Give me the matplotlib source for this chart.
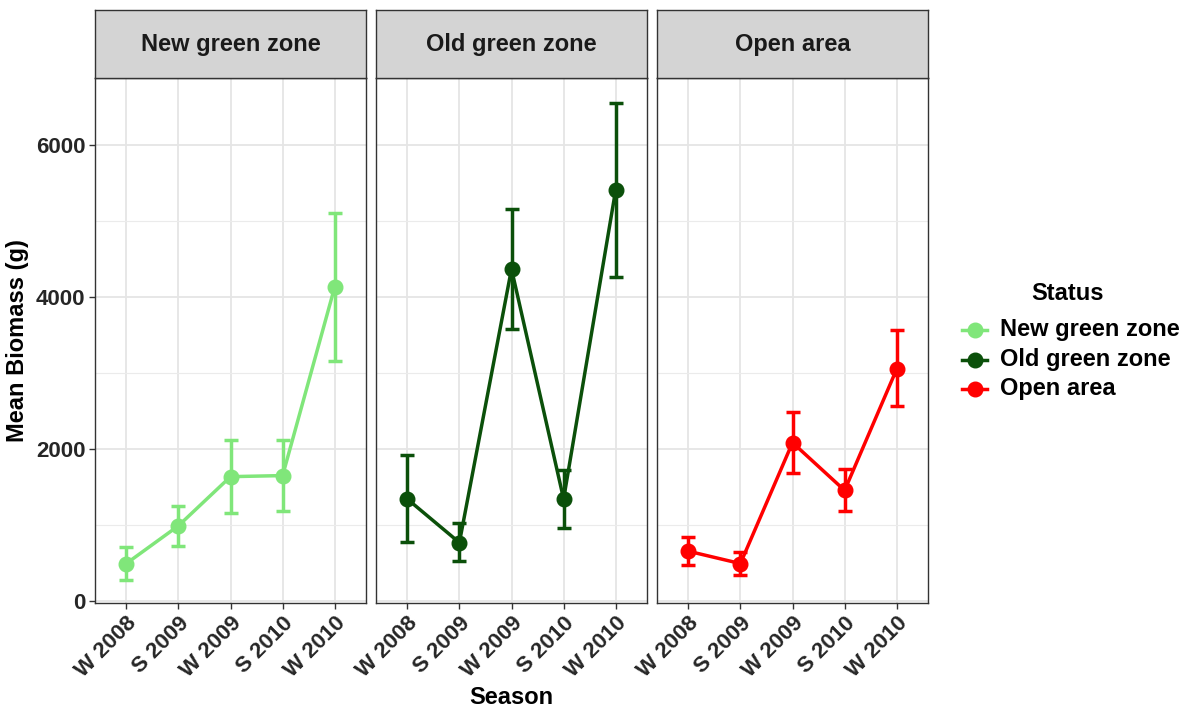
import matplotlib
matplotlib.use("Agg")
import matplotlib.pyplot as plt
from matplotlib.lines import Line2D
import numpy as np

plt.rcParams['font.family'] = ['Liberation Sans', 'DejaVu Sans']

seasons = ["W 2008", "S 2009", "W 2009", "S 2010", "W 2010"]
zones = ["New green zone", "Old green zone", "Open area"]
colors = ["#80E67A", "#0B500A", "#FF0000"]

new_mean = [489, 986, 1633, 1647, 4131]
new_lo = [267, 719, 1158, 1181, 3158]
new_hi = [706, 1244, 2109, 2118, 5100]

old_mean = [1339, 765, 4367, 1339, 5412]
old_lo = [769, 520, 3570, 959, 4262]
old_hi = [1914, 1023, 5154, 1715, 6557]

open_mean = [652, 489, 2081, 1452, 3050]
open_lo = [471, 344, 1679, 1176, 2561]
open_hi = [837, 638, 2480, 1729, 3557]

means = [new_mean, old_mean, open_mean]
los = [new_lo, old_lo, open_lo]
his = [new_hi, old_hi, open_hi]

fig = plt.figure(figsize=(12, 7.2), dpi=100)
W, H = 1200, 720
panel_lefts = [95, 376, 657]
pw = 271
ptop, pbot = 78, 603
strip_top = 10
TICK = 16

x = np.arange(len(seasons))
for i, z in enumerate(zones):
    l = panel_lefts[i]
    ax = fig.add_axes([l / W, 1 - pbot / H, pw / W, (pbot - ptop) / H])
    ax.set_xlim(-0.6, 4.6)
    ax.set_ylim(-30, 6880)
    ax.set_yticks([0, 2000, 4000, 6000])
    ax.set_yticks([1000, 3000, 5000], minor=True)
    ax.grid(True, which='major', color='#E5E5E5', linewidth=1.3, zorder=0)
    ax.grid(True, which='minor', axis='y', color='#EBEBEB', linewidth=0.8, zorder=0)
    ax.set_axisbelow(True)
    for s in ax.spines.values():
        s.set_color('#333333')
        s.set_linewidth(1.0)
    ax.set_xticks(x)
    ax.set_xticklabels(seasons, rotation=45, ha='right', rotation_mode='anchor',
                       fontsize=TICK, fontweight='bold', color='#262626')
    ax.tick_params(axis='both', which='major', length=4, width=1, color='#333333', pad=3)
    ax.tick_params(axis='y', which='minor', length=0)
    if i == 0:
        ax.set_yticklabels(["0", "2000", "4000", "6000"], fontsize=TICK,
                           fontweight='bold', color='#262626')
        ax.set_ylabel("Mean Biomass (g)", fontsize=17, fontweight='bold', labelpad=5)
    else:
        ax.tick_params(axis='y', which='both', left=False, labelleft=False)
    m = np.array(means[i]); lo = np.array(los[i]); hi = np.array(his[i])
    ax.errorbar(x, m, yerr=[m - lo, hi - m], fmt='none', ecolor=colors[i],
                elinewidth=2.5, capsize=5, capthick=2.5, zorder=3)
    ax.plot(x, m, color=colors[i], linewidth=2.5, marker='o', markersize=10.5, zorder=4)
    # strip
    sax = fig.add_axes([l / W, 1 - ptop / H, pw / W, (ptop - strip_top) / H])
    sax.set_facecolor('#D4D4D4')
    sax.set_xticks([]); sax.set_yticks([])
    for s in sax.spines.values():
        s.set_color('#333333')
        s.set_linewidth(1.0)
    sax.text(0.5, 0.5, z, ha='center', va='center', fontsize=17, fontweight='bold',
             color='#1A1A1A', transform=sax.transAxes)

fig.text((95 + 928) / 2 / W, 1 - 697 / H, "Season", ha='center', va='center',
         fontsize=17, fontweight='bold')

# legend
fig.text(1068 / W, 1 - 293 / H, "Status", ha='center', va='center',
         fontsize=17, fontweight='bold')
leg_y = [330, 359.5, 389]
for c, name, yy in zip(colors, zones, leg_y):
    fig.add_artist(Line2D([962 / W, 987 / W], [1 - yy / H, 1 - yy / H],
                          transform=fig.transFigure, color=c, linewidth=2.5))
    fig.add_artist(Line2D([974.5 / W], [1 - yy / H], transform=fig.transFigure,
                          color=c, marker='o', markersize=10.5, linestyle='none'))
    fig.text(1000 / W, 1 - yy / H, name, ha='left', va='center',
             fontsize=17, fontweight='bold')

fig.savefig("out.png", dpi=100)
